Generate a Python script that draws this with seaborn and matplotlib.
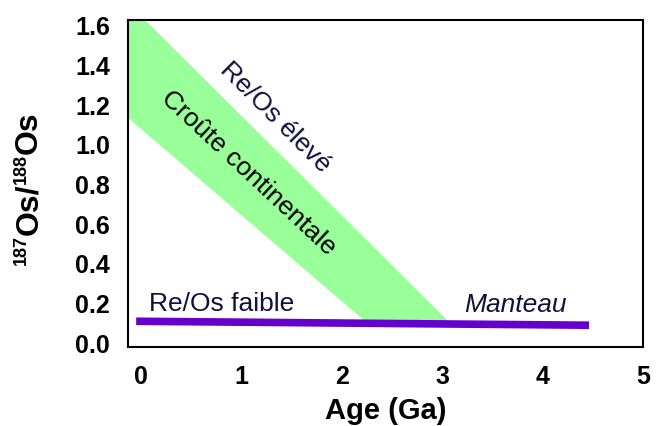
import pandas as pd
import seaborn as sns
import matplotlib.pyplot as plt
from matplotlib.transforms import Affine2D

sns.set_style("white")
plt.rcParams['font.family'] = ['Liberation Sans', 'DejaVu Sans']
plt.rcParams['text.color'] = 'black'
plt.rcParams['xtick.color'] = 'black'
plt.rcParams['ytick.color'] = 'black'
plt.rcParams['axes.labelcolor'] = 'black'

# mantle evolution line (Age in Ga, 187Os/188Os)
mantle_age = [-0.05, 4.46]
mantle_ratio = [0.11, 0.09]

# continental crust band (polygon corners)
band_age = [-0.15, 3.06, 2.23, -0.15]
band_ratio = [1.725, 0.11, 0.11, 1.145]

xticks = [0, 1, 2, 3, 4, 5]
yticks = [0.0, 0.2, 0.4, 0.6, 0.8, 1.0, 1.2, 1.4, 1.6]

navy = '#10103c'

fig = plt.figure(figsize=(6.57, 4.26), dpi=100)
ax = fig.add_axes([0.195, 0.1854, 0.784, 0.7676])

ax.fill(band_age, band_ratio, color='#99ff99', lw=0, zorder=1)

df = pd.DataFrame({'age': mantle_age, 'ratio': mantle_ratio})
sns.lineplot(data=df, x='age', y='ratio', color='#6600cc', lw=5.5, ax=ax, zorder=2,
             solid_capstyle='butt')

ax.set_xlim(-0.13, 4.98)
ax.set_ylim(-0.02, 1.63)
ax.set_xticks(xticks)
ax.set_yticks(yticks)
ax.set_yticklabels([f'{v:.1f}' for v in yticks])
ax.tick_params(length=0, labelsize=18, pad=13)
for lab in ax.get_xticklabels() + ax.get_yticklabels():
    lab.set_fontweight('bold')

for s in ax.spines.values():
    s.set_color('black')
    s.set_linewidth(1.5)

ax.set_xlabel('Age (Ga)', fontsize=21, fontweight='bold', labelpad=6)
ax.set_ylabel('')

# y label built from pieces so the isotope numbers stay small
pieces = [('187', 13, 11), ('Os/', 23, 0), ('188', 13, 11), ('Os', 23, 0)]
renderer = fig.canvas.get_renderer()
base_x = 37
pos_y = 426 - 265
for txt, size, raise_px in pieces:
    t = fig.text(0, 0, txt, fontsize=size, fontweight='bold', rotation=90,
                 rotation_mode='anchor', ha='left', va='baseline',
                 transform=Affine2D().translate(base_x - raise_px, pos_y))
    pos_y += t.get_window_extent(renderer).height

ax.text(1.34, 1.14, 'Re/Os élevé', fontsize=19, color=navy, rotation=-45,
        ha='center', va='center', rotation_mode='anchor')
ax.text(1.07, 0.86, 'Croûte continentale', fontsize=19, color='black', rotation=-43,
        ha='center', va='center', rotation_mode='anchor')
ax.text(0.8, 0.195, 'Re/Os faible', fontsize=19, color=navy, ha='center', va='center')
ax.text(3.73, 0.19, 'Manteau', fontsize=19, color=navy, style='italic',
        ha='center', va='center')

fig.savefig('out.png', dpi=100)
